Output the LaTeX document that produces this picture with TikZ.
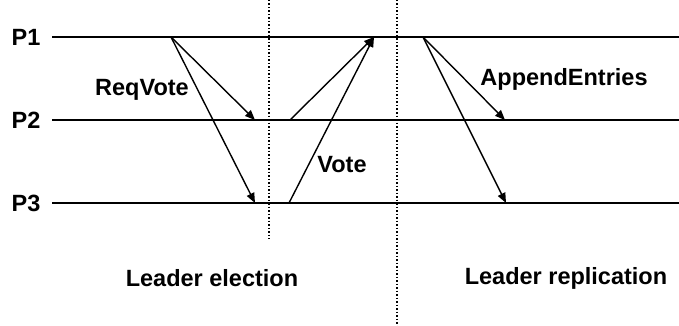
\documentclass[tikz,border=0pt]{standalone}
\usepackage{fontspec}
\setmainfont{Liberation Sans}
\usetikzlibrary{arrows.meta}
\begin{document}
\begin{tikzpicture}[x=1pt,y=-1pt,
  lbl/.style={font=\fontsize{23.5}{27}\selectfont\bfseries, inner sep=0pt},
  proc/.style={line width=2pt},
  msg/.style={line width=1.4pt, -{Triangle[length=10pt,width=8pt]}},
  phase/.style={line width=1.5pt, dash pattern=on 1.5pt off 2pt}]
  \useasboundingbox (0,0) rectangle (679,326);

  % process timelines
  \node[lbl] (p1) at (26,37) {P1};
  \node[lbl] (p2) at (26,120) {P2};
  \node[lbl] (p3) at (26,203) {P3};
  \coordinate (p1s) at (52,37);  \coordinate (p1e) at (679,37);
  \coordinate (p2s) at (52,120); \coordinate (p2e) at (679,120);
  \coordinate (p3s) at (52,203); \coordinate (p3e) at (679,203);
  \draw[proc] (p1s) -- (p1e);
  \draw[proc] (p2s) -- (p2e);
  \draw[proc] (p3s) -- (p3e);

  % phase separators
  \coordinate (d1t) at (269,0);  \coordinate (d1b) at (269,239);
  \coordinate (d2t) at (397,0);  \coordinate (d2b) at (397,326);
  \draw[phase] (d1t) -- (d1b);
  \draw[phase] (d2t) -- (d2b);

  % vote requests
  \coordinate (rq) at (171,37);
  \coordinate (rq2) at (255,120);
  \coordinate (rq3) at (255,203);
  \draw[msg] (rq) -- (rq2);
  \draw[msg] (rq) -- (rq3);
  \node[lbl] (reqvote) at (142,90) {ReqVote};

  % votes
  \coordinate (v2) at (290,120);
  \coordinate (v3) at (289,203);
  \coordinate (vt) at (374,37);
  \draw[msg] (v2) -- (vt);
  \draw[msg] (v3) -- (vt);
  \node[lbl] (vote) at (342,165) {Vote};

  % log replication
  \coordinate (ae) at (423,37);
  \coordinate (ae2) at (505,120);
  \coordinate (ae3) at (506,203);
  \draw[msg] (ae) -- (ae2);
  \draw[msg] (ae) -- (ae3);
  \node[lbl] (append) at (564,79) {AppendEntries};

  % phase titles
  \node[lbl] (elect) at (212,278) {Leader election};
  \node[lbl] (repl) at (566,278) {Leader replication};
\end{tikzpicture}
\end{document}
